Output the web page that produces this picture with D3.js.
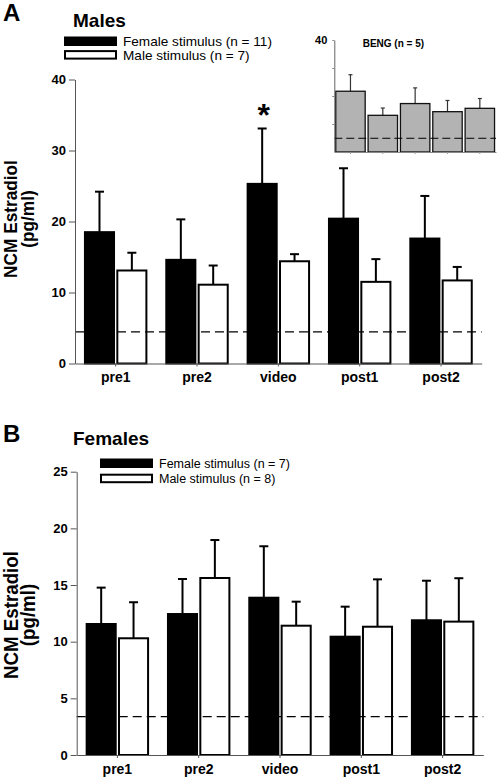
<!DOCTYPE html>
<html>
<head>
<meta charset="utf-8">
<script src="https://cdn.jsdelivr.net/npm/d3@7"></script>
<style>
  html, body { margin: 0; padding: 0; background: #fff; }
  svg { display: block; font-family: Arial, "Liberation Sans", sans-serif; }
</style>
</head>
<body>
<svg id="chart" width="497" height="778"></svg>
<script>
// ---------------- DATA ----------------
const categories = ["pre1", "pre2", "video", "post1", "post2"];

// Panel A: Males
const malesFemaleStimMean = [18.5, 14.6, 25.3, 20.4, 17.6];
const malesFemaleStimSE   = [5.7, 5.7, 7.8, 7.1, 6.0];
const malesMaleStimMean   = [13.1, 11.1, 14.4, 11.5, 11.7];
const malesMaleStimSE     = [2.5, 2.7, 1.0, 3.2, 1.9];
const malesDetectionLimit = 4.45;
const malesTicks = [0, 10, 20, 30, 40];
const malesLegend = ["Female stimulus (n = 11)", "Male stimulus (n = 7)"];

// Inset: BENG
const bengMean = [21.7, 13.1, 17.3, 14.4, 15.6];
const bengSE   = [5.9, 2.6, 5.6, 4.0, 3.5];
const bengDetectionLimit = 4.9;
const bengTicks = [10, 20, 30, 40];
const bengLabel = "BENG (n = 5)";

// Panel B: Females
const femalesFemaleStimMean = [11.56, 12.44, 13.88, 10.44, 11.89];
const femalesFemaleStimSE   = [3.21, 3.09, 4.54, 2.65, 3.49];
const femalesMaleStimMean   = [10.3, 15.62, 11.41, 11.32, 11.77];
const femalesMaleStimSE     = [3.18, 3.35, 2.12, 4.18, 3.83];
const femalesDetectionLimit = 3.38;
const femalesTicks = [0, 5, 10, 15, 20, 25];
const femalesLegend = ["Female stimulus (n = 7)", "Male stimulus (n = 8)"];

const seriesKeys = ["female", "male"];
const seriesFill = { female: "#000", male: "#fff" };

// ---------------- DRAW ----------------
const svg = d3.select("#chart");
const FONT = 'Arial, "Liberation Sans", sans-serif';

function drawPanel(cfg) {
  const g = svg.append("g");
  const x = d3.scaleBand().domain(categories).range([cfg.x0, cfg.x1]).paddingInner(0.22).paddingOuter(0.11);
  const xi = d3.scaleBand().domain(seriesKeys).range([0, x.bandwidth()]).paddingInner(0.04);
  const y = d3.scaleLinear().domain([0, cfg.ymax]).range([cfg.y0, cfg.y1]);

  const rows = [];
  categories.forEach((c, i) => {
    rows.push({ cat: c, key: "female", mean: cfg.fMean[i], se: cfg.fSE[i] });
    rows.push({ cat: c, key: "male", mean: cfg.mMean[i], se: cfg.mSE[i] });
  });

  // error bars
  const eb = g.append("g");
  rows.forEach(d => {
    const cx = x(d.cat) + xi(d.key) + xi.bandwidth() / 2;
    eb.append("line").attr("x1", cx).attr("x2", cx)
      .attr("y1", y(d.mean)).attr("y2", y(d.mean + d.se))
      .attr("stroke", "#000").attr("stroke-width", 2);
    eb.append("line").attr("x1", cx - 4.5).attr("x2", cx + 4.5)
      .attr("y1", y(d.mean + d.se)).attr("y2", y(d.mean + d.se))
      .attr("stroke", "#000").attr("stroke-width", 2);
  });

  g.append("g").selectAll("rect").data(rows).join("rect")
    .attr("x", d => x(d.cat) + xi(d.key) + 1)
    .attr("width", xi.bandwidth() - 2)
    .attr("y", d => y(d.mean))
    .attr("height", d => y(0) - y(d.mean))
    .attr("fill", d => seriesFill[d.key])
    .attr("stroke", "#000").attr("stroke-width", 2);

  g.append("line")
    .attr("x1", cfg.x0).attr("x2", cfg.x1)
    .attr("y1", y(cfg.limit)).attr("y2", y(cfg.limit))
    .attr("stroke", "#000").attr("stroke-width", 1.2)
    .attr("stroke-dasharray", "9,5");

  // axes
  const ay = g.append("g").attr("transform", `translate(${cfg.x0},0)`)
    .call(d3.axisLeft(y).tickValues(cfg.ticks).tickSize(6).tickSizeOuter(0).tickPadding(3));
  ay.select(".domain").attr("stroke", "#555");
  ay.selectAll(".tick line").attr("stroke", "#555");
  ay.selectAll("text").attr("font-family", FONT).attr("font-weight", "bold")
    .attr("font-size", 13).attr("fill", "#000");

  const ax = g.append("g").attr("transform", `translate(0,${cfg.y0})`)
    .call(d3.axisBottom(x).tickSize(3).tickSizeOuter(0).tickPadding(6));
  ax.select(".domain").attr("stroke", "#555");
  ax.selectAll(".tick line").attr("stroke", "#555");
  ax.selectAll("text").attr("font-family", FONT).attr("font-weight", "bold")
    .attr("font-size", 14).attr("fill", "#000");

  // y title (slightly condensed, as in the original figure)
  const tl = g.append("text")
    .attr("transform", `translate(${cfg.titleX},${cfg.titleY}) rotate(-90) scale(${cfg.titleSx},1)`)
    .attr("text-anchor", "middle").attr("font-family", FONT)
    .attr("font-weight", "bold").attr("font-size", cfg.titleSize);
  tl.append("tspan").attr("x", 0).attr("y", 0).text("NCM Estradiol");
  tl.append("tspan").attr("x", 0).attr("y", cfg.titleGap).text("(pg/ml)");

  // panel letter & heading
  g.append("text").attr("x", 3).attr("y", cfg.letterY).attr("font-family", FONT)
    .attr("font-weight", "bold").attr("font-size", 24).text(cfg.letter);
  g.append("text").attr("x", 73).attr("y", cfg.headY).attr("font-family", FONT)
    .attr("font-weight", "bold").attr("font-size", 19).text(cfg.heading);

  // legend
  cfg.legend.forEach((lab, i) => {
    const ly = cfg.legY + i * cfg.legStep;
    g.append("rect").attr("x", cfg.legX + 1).attr("y", ly + 1)
      .attr("width", 51).attr("height", 7.5)
      .attr("fill", seriesFill[seriesKeys[i]]).attr("stroke", "#000").attr("stroke-width", 2);
    g.append("text").attr("x", cfg.legX + 59).attr("y", ly + 9.5)
      .attr("font-family", FONT).attr("font-size", cfg.legSize).text(lab);
  });

  return { x, xi, y, g };
}

const A = drawPanel({
  x0: 75, x1: 481.7, y0: 363.5, y1: 79.5, ymax: 40,
  fMean: malesFemaleStimMean, fSE: malesFemaleStimSE,
  mMean: malesMaleStimMean, mSE: malesMaleStimSE,
  limit: malesDetectionLimit, ticks: malesTicks,
  titleX: 17.4, titleY: 219, titleSize: 19, titleSx: 0.908, titleGap: 16.2,
  letter: "A", letterY: 20.5, heading: "Males", headY: 26.7,
  legend: malesLegend, legX: 64, legY: 36.5, legStep: 13.6, legSize: 13.6
});

// asterisk over video female-stimulus bar
{
  const i = categories.indexOf("video");
  const cx = A.x("video") + A.xi("female") + A.xi.bandwidth() / 2 + 1.5;
  A.g.append("text").attr("x", cx).attr("y", A.y(malesFemaleStimMean[i] + malesFemaleStimSE[i]) - 2)
    .attr("text-anchor", "middle").attr("font-family", FONT)
    .attr("font-weight", "bold").attr("font-size", 32).text("*");
}

drawPanel({
  x0: 76.7, x1: 483.3, y0: 755, y1: 471.7, ymax: 25,
  fMean: femalesFemaleStimMean, fSE: femalesFemaleStimSE,
  mMean: femalesMaleStimMean, mSE: femalesMaleStimSE,
  limit: femalesDetectionLimit, ticks: femalesTicks,
  titleX: 17.8, titleY: 615, titleSize: 19.5, titleSx: 0.96, titleGap: 16.8,
  letter: "B", letterY: 441.5, heading: "Females", headY: 445,
  legend: femalesLegend, legX: 100, legY: 458.5, legStep: 15.2, legSize: 12.5
});

// ---------------- INSET ----------------
{
  const g = svg.append("g");
  const ix0 = 334.3, ix1 = 496, iy0 = 152, iy1 = 40;
  const x = d3.scaleBand().domain(categories).range([ix0, ix1]).paddingInner(0.09).paddingOuter(0.045);
  const y = d3.scaleLinear().domain([0, 40]).range([iy0, iy1]);

  categories.forEach((c, i) => {
    const cx = x(c) + x.bandwidth() / 2;
    g.append("line").attr("x1", cx).attr("x2", cx)
      .attr("y1", y(bengMean[i])).attr("y2", y(bengMean[i] + bengSE[i]))
      .attr("stroke", "#333").attr("stroke-width", 1.2);
    g.append("line").attr("x1", cx - 2).attr("x2", cx + 2)
      .attr("y1", y(bengMean[i] + bengSE[i])).attr("y2", y(bengMean[i] + bengSE[i]))
      .attr("stroke", "#333").attr("stroke-width", 1.2);
  });
  g.selectAll("rect.beng").data(bengMean).join("rect").attr("class", "beng")
    .attr("x", (d, i) => x(categories[i]))
    .attr("width", x.bandwidth())
    .attr("y", d => y(d))
    .attr("height", d => y(0) - y(d))
    .attr("fill", "#b3b3b3").attr("stroke", "#111").attr("stroke-width", 1.3);

  g.append("line").attr("x1", ix0).attr("x2", ix1)
    .attr("y1", y(bengDetectionLimit)).attr("y2", y(bengDetectionLimit))
    .attr("stroke", "#000").attr("stroke-width", 1).attr("stroke-dasharray", "8,4");

  const ay = g.append("g").attr("transform", `translate(${ix0},0)`)
    .call(d3.axisLeft(y).tickValues(bengTicks).tickSize(2).tickSizeOuter(0).tickPadding(5)
      .tickFormat(d => d === 40 ? "40" : ""));
  ay.select(".domain").attr("stroke", "#666");
  ay.selectAll(".tick line").attr("stroke", "#888");
  ay.selectAll("text").attr("font-family", FONT).attr("font-weight", "bold")
    .attr("font-size", 11).attr("fill", "#000");

  const ax = g.append("g").attr("transform", `translate(0,${iy0})`)
    .call(d3.axisBottom(x).tickSize(2).tickSizeOuter(0).tickFormat(""));
  ax.select(".domain").attr("stroke", "#888");
  ax.selectAll(".tick line").attr("stroke", "#999");

  g.append("text").attr("x", 362.7).attr("y", 46.5).attr("font-family", FONT)
    .attr("font-weight", "bold").attr("font-size", 10).text(bengLabel);
}
</script>
</body>
</html>
